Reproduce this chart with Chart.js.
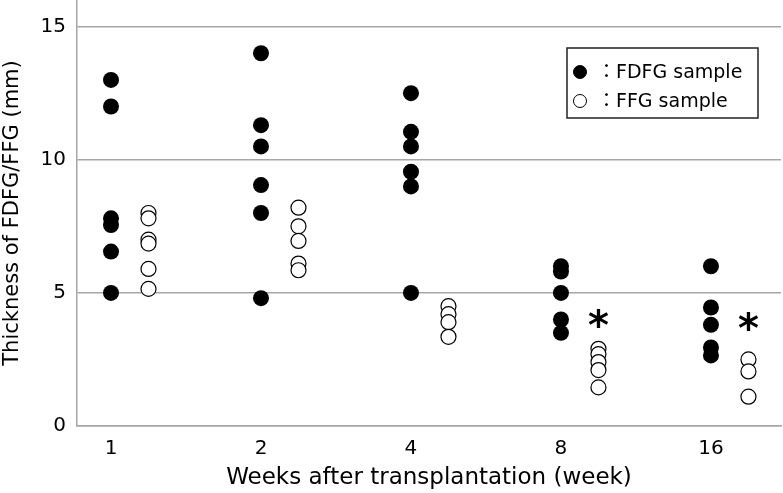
<!DOCTYPE html>
<html>
<head>
<meta charset="utf-8">
<script src="https://cdn.jsdelivr.net/npm/chart.js@4/dist/chart.umd.min.js"></script>
<style>
html,body{margin:0;padding:0;background:#fff;}
#wrap{position:relative;width:783px;height:493px;}
</style>
</head>
<body>
<div id="wrap"><canvas id="c" width="783" height="493"></canvas></div>
<script>
// ---- data ----
const weeks = ['1', '2', '4', '8', '16'];
const fdfgValues = [
  [13.0, 12.0, 7.8, 7.55, 6.55, 5.0],
  [14.0, 11.3, 10.5, 9.05, 8.0, 4.8],
  [12.5, 11.05, 10.5, 9.55, 9.0, 5.0],
  [6.0, 5.8, 5.0, 4.0, 3.5],
  [6.0, 4.45, 3.8, 2.95, 2.65]
];
const ffgValues = [
  [8.0, 7.8, 7.0, 6.85, 5.9, 5.15],
  [8.2, 7.5, 6.95, 6.1, 5.85],
  [4.5, 4.2, 3.9, 3.35],
  [2.9, 2.7, 2.4, 2.1, 1.45],
  [2.5, 2.05, 1.1]
];
const yTicks = [0, 5, 10, 15];
const sigGroups = [3, 4];      // groups marked with *
const sigY = [4.05, 3.95];     // vertical position of the * marks
const seriesLabels = ['FDFG sample', 'FFG sample'];

const FFG_SHIFT = 0.25;
const FONT = "'DejaVu Sans', 'Noto Sans CJK JP', sans-serif";
const GRID = '#a6a6a6';

function toPoints(groups, shift) {
  const pts = [];
  groups.forEach((vals, i) => vals.forEach(v => pts.push({x: i + shift, y: v})));
  return pts;
}

const legendPlugin = {
  id: 'boxLegend',
  afterDraw(chart) {
    const ctx = chart.ctx;
    const x0 = 567, y0 = 48, w = 191, h = 70;
    ctx.save();
    ctx.strokeStyle = '#222';
    ctx.lineWidth = 1.5;
    ctx.strokeRect(x0, y0, w, h);
    const rows = [72, 101];
    chart.data.datasets.forEach((ds, i) => {
      const cy = rows[i];
      ctx.beginPath();
      ctx.arc(580, cy, 6.5, 0, Math.PI * 2);
      ctx.fillStyle = ds.backgroundColor;
      ctx.fill();
      ctx.lineWidth = 1;
      ctx.strokeStyle = '#000';
      ctx.stroke();
      ctx.fillStyle = '#000';
      ctx.font = "19px " + FONT;
      ctx.textBaseline = 'middle';
      ctx.textAlign = 'left';
      ctx.fillText('\uFF1A' + ds.label, 597, cy + 1);
    });
    ctx.restore();
  }
};

const starPlugin = {
  id: 'sigStars',
  afterDatasetsDraw(chart) {
    const ctx = chart.ctx;
    const xs = chart.scales.x, ys = chart.scales.y;
    ctx.save();
    ctx.font = "bold 40px 'DejaVu Sans', sans-serif";
    ctx.fillStyle = '#000';
    ctx.textAlign = 'center';
    ctx.textBaseline = 'alphabetic';
    const m = ctx.measureText('*');
    const adj = (m.actualBoundingBoxAscent - m.actualBoundingBoxDescent) / 2;
    sigGroups.forEach((g, k) => {
      const px = xs.getPixelForValue(g + FFG_SHIFT);
      const py = ys.getPixelForValue(sigY[k]);
      ctx.fillText('*', px, py + adj);
    });
    ctx.restore();
  }
};

new Chart(document.getElementById('c'), {
  type: 'scatter',
  data: {
    datasets: [
      {
        label: seriesLabels[0],
        data: toPoints(fdfgValues, 0),
        backgroundColor: '#000',
        borderColor: '#000',
        borderWidth: 0,
        pointRadius: 8,
        pointHoverRadius: 8
      },
      {
        label: seriesLabels[1],
        data: toPoints(ffgValues, FFG_SHIFT),
        backgroundColor: '#fff',
        borderColor: '#000',
        borderWidth: 1.2,
        pointRadius: 7.5,
        pointHoverRadius: 7.5
      }
    ]
  },
  options: {
    responsive: false,
    animation: false,
    layout: {autoPadding: false, padding: {left: 0, right: 2, top: 0, bottom: 0}},
    plugins: {legend: {display: false}, tooltip: {enabled: false}},
    scales: {
      x: {
        type: 'linear',
        min: -0.2267,
        max: 4.467,
        afterBuildTicks(scale) { scale.ticks = weeks.map((w, i) => ({value: i})); },
        afterFit(scale) { scale.height = 67; scale.paddingLeft = 0; scale.paddingRight = 0; },
        grid: {display: false, drawTicks: false},
        border: {display: true, color: GRID, width: 1.5},
        ticks: {
          padding: 11,
          color: '#000',
          font: {family: FONT, size: 20},
          callback: (v) => weeks[Math.round(v)]
        },
        title: {
          display: true,
          text: 'Weeks after transplantation (week)',
          color: '#000',
          font: {family: FONT, size: 23},
          padding: {top: 0, bottom: 1}
        }
      },
      y: {
        min: 0,
        max: 16,
        afterBuildTicks(scale) { scale.ticks = yTicks.map(v => ({value: v})); },
        afterFit(scale) { scale.width = 77; scale.paddingTop = 0; scale.paddingBottom = 0; },
        grid: {color: GRID, lineWidth: 1.5, drawTicks: false},
        border: {display: true, color: GRID, width: 1.5},
        ticks: {
          padding: 11,
          color: '#000',
          font: {family: FONT, size: 20}
        },
        title: {
          display: true,
          text: 'Thickness of FDFG/FFG (mm)',
          color: '#000',
          font: {family: FONT, size: 21},
          padding: {top: 0, bottom: 0}
        }
      }
    }
  },
  plugins: [legendPlugin, starPlugin]
});
</script>
</body>
</html>
